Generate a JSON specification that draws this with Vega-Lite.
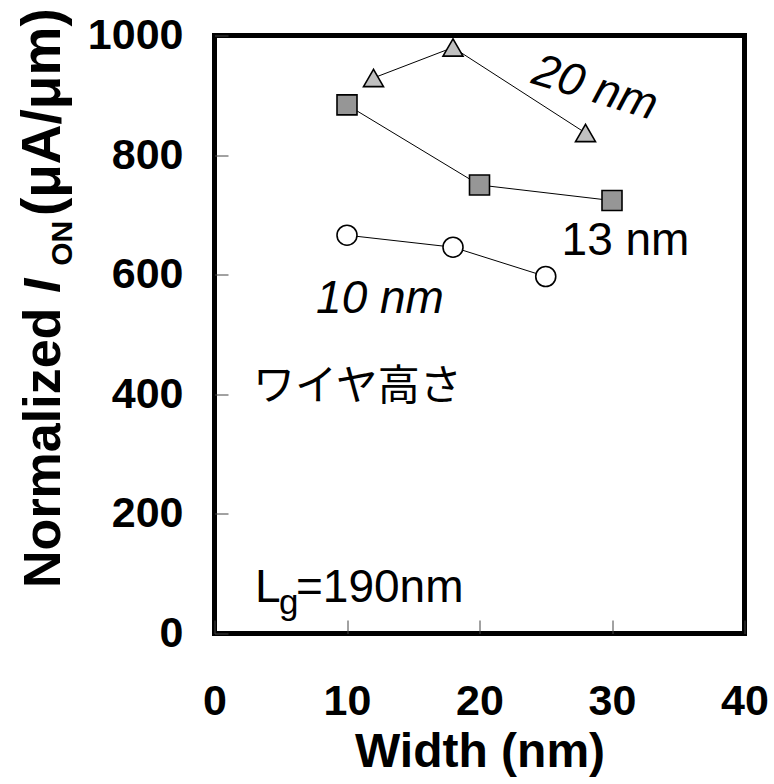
{
  "$schema": "https://vega.github.io/schema/vega-lite/v6.json",
  "width": 530,
  "height": 598,
  "autosize": {"type": "none"},
  "padding": {"left": 214.5, "top": 35.5, "right": 29.5, "bottom": 150.5},
  "background": "white",
  "config": {
    "font": "Liberation Sans",
    "view": {"stroke": "black", "strokeWidth": 5},
    "axis": {
      "grid": false,
      "domain": false,
      "tickSize": -13.5,
      "tickWidth": 1,
      "tickColor": "#444444",
      "labelFont": "Liberation Sans",
      "labelFontSize": 43,
      "labelFontWeight": "bold",
      "labelColor": "black",
      "labelFlush": false,
      "labelOverlap": false,
      "titleFont": "Liberation Sans",
      "titleColor": "black"
    }
  },
  "data": {
    "values": [
      {"height": "10 nm", "width": 10, "ion": 666},
      {"height": "10 nm", "width": 18, "ion": 646},
      {"height": "10 nm", "width": 25, "ion": 597},
      {"height": "13 nm", "width": 10, "ion": 884},
      {"height": "13 nm", "width": 20, "ion": 750},
      {"height": "13 nm", "width": 30, "ion": 724},
      {"height": "20 nm", "width": 12, "ion": 929},
      {"height": "20 nm", "width": 18, "ion": 980},
      {"height": "20 nm", "width": 28, "ion": 837}
    ]
  },
  "encoding": {
    "x": {
      "field": "width", "type": "quantitative",
      "scale": {"domain": [0, 40], "nice": false},
      "axis": {
        "values": [0, 10, 20, 30, 40],
        "format": "d",
        "labelPadding": 60,
        "title": "Width (nm)",
        "titleFontSize": 48,
        "titleFontWeight": "bold",
        "titleY": 132.5,
        "titleBaseline": "alphabetic"
      }
    },
    "y": {
      "field": "ion", "type": "quantitative",
      "scale": {"domain": [0, 1000], "nice": false},
      "axis": {
        "values": [0, 200, 400, 600, 800, 1000],
        "format": "d",
        "labelPadding": 45,
        "title": null
      }
    }
  },
  "layer": [
    {
      "mark": {"type": "line", "color": "black", "strokeWidth": 1},
      "encoding": {"detail": {"field": "height"}}
    },
    {
      "mark": {"type": "point", "filled": true, "stroke": "black", "strokeWidth": 1.6, "opacity": 1},
      "encoding": {
        "shape": {
          "field": "height", "type": "nominal",
          "scale": {"domain": ["10 nm", "13 nm", "20 nm"], "range": ["circle", "square", "triangle-up"]},
          "legend": null
        },
        "fill": {
          "field": "height", "type": "nominal",
          "scale": {"domain": ["10 nm", "13 nm", "20 nm"], "range": ["#ffffff", "#969696", "#c0c0c0"]},
          "legend": null
        },
        "size": {
          "field": "height", "type": "nominal",
          "scale": {"domain": ["10 nm", "13 nm", "20 nm"], "range": [400, 400, 470]},
          "legend": null
        }
      }
    },
    {
      "data": {
        "values": [
          {"width": 28.42, "ion": 889.6, "label": "20 nm"},
          {"width": 12.49, "ion": 536, "label": "10 nm"}
        ]
      },
      "mark": {"type": "text", "fontSize": 46, "fontStyle": "italic", "align": "center", "baseline": "alphabetic"},
      "encoding": {
        "text": {"field": "label"},
        "angle": {"condition": {"test": "datum.label === '20 nm'", "value": 17}, "value": 0}
      }
    },
    {
      "data": {"values": [{"width": 31.02, "ion": 632.9, "label": "13 nm"}]},
      "mark": {"type": "text", "fontSize": 46, "align": "center", "baseline": "alphabetic"},
      "encoding": {"text": {"field": "label"}}
    },
    {
      "data": {"values": [{"width": 10.79, "ion": 390.5, "label": "ワイヤ高さ"}]},
      "mark": {"type": "text", "font": "Noto Sans CJK JP", "fontSize": 42, "align": "center", "baseline": "alphabetic"},
      "encoding": {"text": {"field": "label"}}
    },
    {
      "data": {
        "values": [
          {"width": 3.05, "ion": 52.7, "label": "L"},
          {"width": 6.15, "ion": 52.7, "label": "=190nm"}
        ]
      },
      "mark": {"type": "text", "fontSize": 46, "align": "left", "baseline": "alphabetic"},
      "encoding": {"text": {"field": "label"}}
    },
    {
      "data": {"values": [{"width": 4.87, "ion": 33, "label": "g"}]},
      "mark": {"type": "text", "fontSize": 35, "align": "left", "baseline": "alphabetic"},
      "encoding": {"text": {"field": "label"}}
    },
    {
      "data": {
        "values": [
          {"width": -11.66, "ion": 76.2, "label": "Normalized"},
          {"width": -11.66, "ion": 698, "label": "(μA/μm)"}
        ]
      },
      "mark": {"type": "text", "fontWeight": "bold", "angle": 270, "align": "left", "baseline": "alphabetic"},
      "encoding": {
        "text": {"field": "label"},
        "size": {"condition": {"test": "datum.label === 'Normalized'", "value": 52}, "value": 55}
      }
    },
    {
      "data": {"values": [{"width": -11.66, "ion": 569.4, "label": "I"}]},
      "mark": {"type": "text", "fontWeight": "bold", "fontStyle": "italic", "fontSize": 52, "angle": 270, "align": "left", "baseline": "alphabetic"},
      "encoding": {"text": {"field": "label"}}
    },
    {
      "data": {"values": [{"width": -10.75, "ion": 615, "label": "ON"}]},
      "mark": {"type": "text", "fontWeight": "bold", "fontSize": 30, "angle": 270, "align": "left", "baseline": "alphabetic"},
      "encoding": {"text": {"field": "label"}}
    }
  ]
}
